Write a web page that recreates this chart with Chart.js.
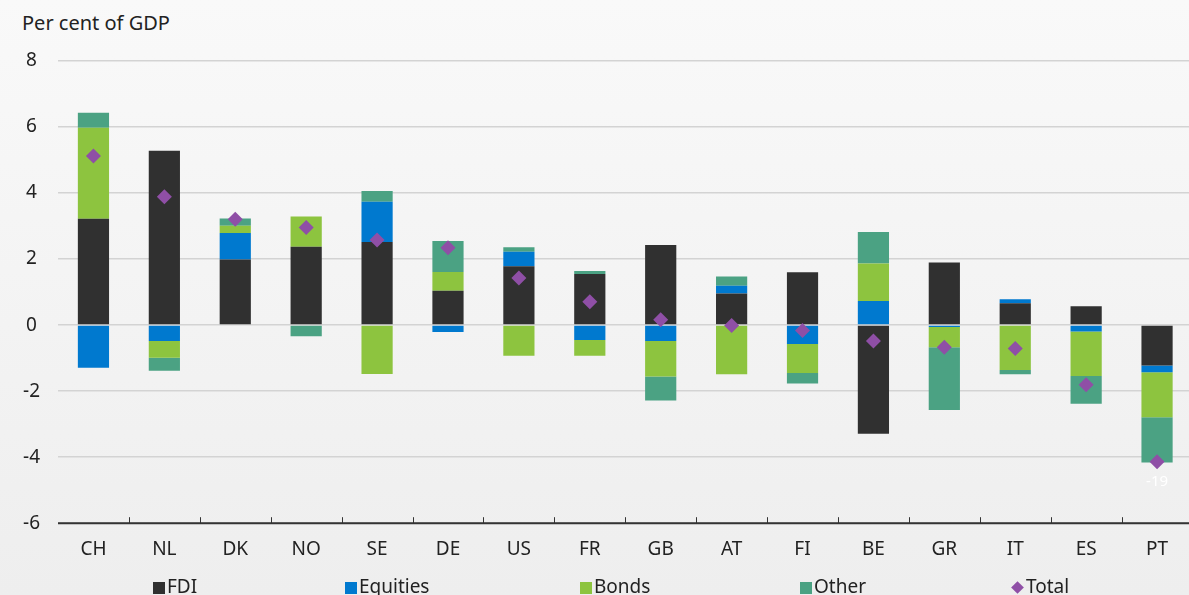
<!DOCTYPE html>
<html>
<head>
<meta charset="utf-8">
<script src="https://cdn.jsdelivr.net/npm/chart.js@4"></script>
<style>
  html, body { margin: 0; padding: 0; overflow: hidden; }
  body { width: 1189px; height: 595px; background: linear-gradient(#f9f9f9, #eeeeee); position: relative; font-family: "Noto Sans", sans-serif; color: #222; }
  #unit { position: absolute; left: 22px; top: 9px; font-size: 20px; }
  #wrap { position: absolute; left: 0; top: 0; width: 1200px; height: 595px; }
  .lg { position: absolute; top: 574px; font-size: 19px; line-height: 24px; white-space: nowrap; }
  .lg i { display: inline-block; width: 12px; height: 12px; margin-right: 2px; vertical-align: -1px; }
  .lg i.dia { width: 9px; height: 9px; transform: rotate(45deg); margin: 0 4px 0 2px; vertical-align: 1px; }
</style>
</head>
<body>
<div id="unit">Per cent of GDP</div>
<div id="wrap"><canvas id="chart"></canvas></div>
<script>
const countries = ["CH","NL","DK","NO","SE","DE","US","FR","GB","AT","FI","BE","GR","IT","ES","PT"];

const fdi      = [3.22, 5.28, 1.99, 2.37, 2.52, 1.04, 1.78, 1.55, 2.43, 0.96, 1.60, -3.29, 1.90, 0.66, 0.57, -1.22];
const equities = [-1.29, -0.48, 0.80, 0, 1.22, -0.21, 0.44, -0.45, -0.48, 0.23, -0.57, 0.73, -0.06, 0.12, -0.19, -0.21];
const bonds    = [2.76, -0.51, 0.22, 0.92, -1.48, 0.57, -0.93, -0.48, -1.08, -1.49, -0.88, 1.14, -0.61, -1.36, -1.35, -1.36];
const other    = [0.45, -0.39, 0.22, -0.34, 0.32, 0.94, 0.14, 0.09, -0.72, 0.28, -0.32, 0.95, -1.90, -0.13, -0.84, -1.37];
const total    = [5.12, 3.89, 3.21, 2.96, 2.58, 2.34, 1.43, 0.71, 0.16, -0.01, -0.16, -0.48, -0.67, -0.71, -1.81, -4.14];

// off-scale note printed under the PT marker
const totalNotes = ["", "", "", "", "", "", "", "", "", "", "", "", "", "", "", "-19"];

const yTicks = [-6, -4, -2, 0, 2, 4, 6, 8];

// legend columns (left edge of each key)
const legendLeft = [153, 345, 580, 800, 1011];

const font = { family: "Noto Sans", size: 19 };

const upTicks = {
  id: "upTicks",
  afterDatasetsDraw(chart) {
    const x = chart.scales.x, y = chart.scales.y, c = chart.ctx;
    const step = x.width / countries.length;
    c.save();
    c.strokeStyle = "#333";
    c.lineWidth = 1;
    for (let i = 1; i < countries.length; i++) {
      const px = Math.round(x.left + i * step) + 0.5;
      c.beginPath();
      c.moveTo(px, y.bottom);
      c.lineTo(px, y.bottom - 6);
      c.stroke();
    }
    c.lineWidth = 2;
    c.beginPath();
    c.moveTo(x.left, y.bottom);
    c.lineTo(x.right, y.bottom);
    c.stroke();
    const meta = chart.getDatasetMeta(4);
    c.fillStyle = "#ffffff";
    c.font = "15px Noto Sans";
    c.textAlign = "center";
    c.textBaseline = "middle";
    totalNotes.forEach((t, i) => {
      if (!t) return;
      const p = meta.data[i];
      c.fillText(t, p.x, p.y + 20);
    });
    c.restore();
  }
};

const chart = new Chart(document.getElementById("chart"), {
  data: {
    labels: countries,
    datasets: [
      { type: "bar", label: "FDI", data: fdi, backgroundColor: "#303030", order: 1 },
      { type: "bar", label: "Equities", data: equities, backgroundColor: "#0079cf", order: 1 },
      { type: "bar", label: "Bonds", data: bonds, backgroundColor: "#8dc43f", order: 1 },
      { type: "bar", label: "Other", data: other, backgroundColor: "#4ba283", order: 1 },
      { type: "line", label: "Total", data: total, showLine: false, pointStyle: "rectRot",
        pointRadius: 7.5, pointBackgroundColor: "#8f4fa6", pointBorderWidth: 0,
        backgroundColor: "#8f4fa6", borderColor: "#8f4fa6", order: 0 }
    ]
  },
  options: {
    responsive: true,
    maintainAspectRatio: false,
    animation: false,
    layout: { padding: { top: 61, left: 0, right: 0, bottom: 27 } },
    datasets: { bar: { categoryPercentage: 0.44, barPercentage: 1 } },
    scales: {
      x: {
        stacked: true,
        grid: { display: false },
        border: { display: false },
        ticks: { color: "#222", font: font, padding: 7 }
      },
      y: {
        stacked: true,
        min: -6, max: 8,
        afterBuildTicks: s => { s.ticks = yTicks.map(v => ({ value: v })); },
        afterFit: s => { s.width = 58; },
        grid: { color: "#d3d3d3", lineWidth: 1.5, drawTicks: false },
        border: { display: false },
        ticks: { color: "#222", font: font, padding: 18, crossAlign: "center" }
      }
    },
    plugins: {
      tooltip: { enabled: false },
      legend: { display: false }
    }
  },
  plugins: [upTicks]
});

chart.data.datasets.forEach((ds, i) => {
  const el = document.createElement("div");
  el.className = "lg";
  el.style.left = legendLeft[i] + "px";
  const key = document.createElement("i");
  if (ds.type === "line") key.className = "dia";
  key.style.background = ds.backgroundColor;
  el.appendChild(key);
  el.appendChild(document.createTextNode(ds.label));
  document.body.appendChild(el);
});
</script>
</body>
</html>
